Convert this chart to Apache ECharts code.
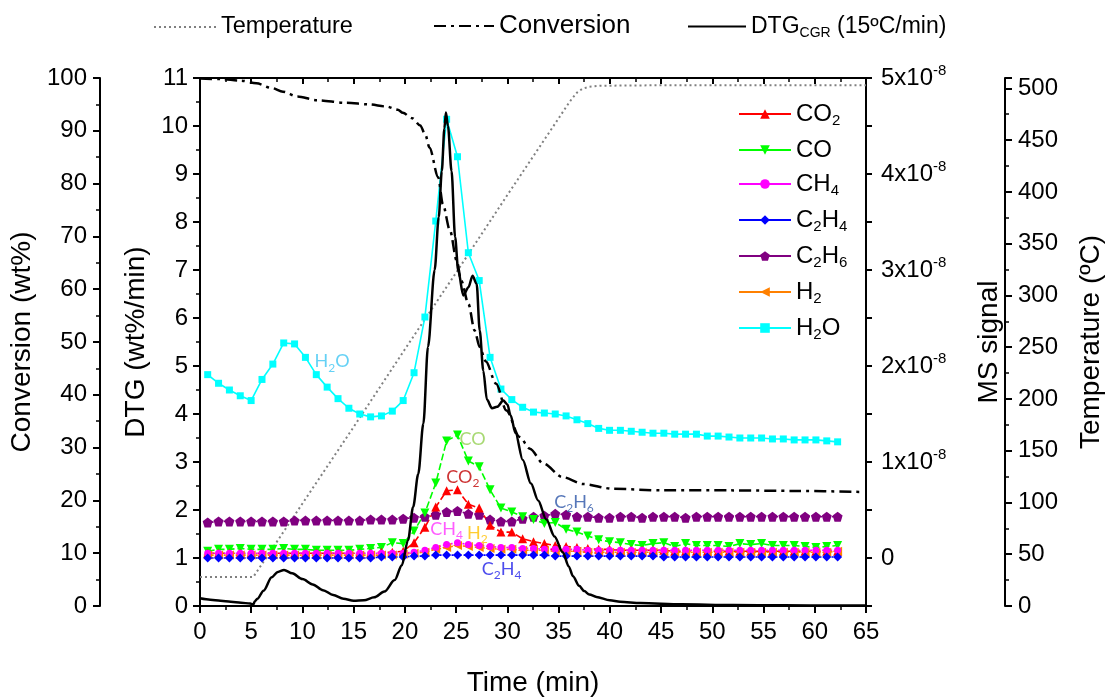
<!DOCTYPE html>
<html><head><meta charset="utf-8">
<script src="https://cdn.jsdelivr.net/npm/echarts@6/dist/echarts.min.js"></script>
<style>html,body{margin:0;padding:0;background:#fff}#c{width:1109px;height:697px}</style>
</head><body><div id="c"></div>
<script>
// ---- data ----
const msTime = [0.75,1.81,2.87,3.93,4.99,6.05,7.11,8.17,9.23,10.29,11.35,12.41,13.47,14.53,15.59,16.65,17.71,18.77,19.83,20.89,21.95,23.01,24.07,25.13,26.19,27.25,28.31,29.37,30.43,31.49,32.55,33.61,34.67,35.73,36.79,37.85,38.91,39.97,41.03,42.09,43.15,44.21,45.27,46.33,47.39,48.45,49.51,50.57,51.63,52.69,53.75,54.81,55.87,56.93,57.99,59.05,60.11,61.17,62.23];
// MS signals in units of 1e-8
const h2o = [1.91,1.82,1.75,1.69,1.64,1.86,2.02,2.24,2.23,2.09,1.91,1.78,1.66,1.56,1.50,1.47,1.48,1.53,1.64,1.93,2.51,3.51,4.57,4.18,3.18,2.89,2.09,1.76,1.65,1.57,1.52,1.51,1.50,1.48,1.44,1.40,1.35,1.33,1.33,1.32,1.31,1.30,1.30,1.29,1.29,1.29,1.27,1.27,1.26,1.25,1.25,1.25,1.24,1.24,1.23,1.23,1.23,1.22,1.21];
const c2h6 = [0.37,0.38,0.38,0.38,0.38,0.38,0.38,0.38,0.39,0.39,0.39,0.39,0.39,0.39,0.39,0.40,0.40,0.40,0.41,0.42,0.43,0.45,0.48,0.49,0.46,0.45,0.40,0.38,0.38,0.41,0.43,0.44,0.46,0.45,0.43,0.43,0.42,0.42,0.43,0.43,0.42,0.43,0.43,0.43,0.42,0.43,0.43,0.43,0.43,0.43,0.43,0.43,0.43,0.43,0.43,0.43,0.43,0.43,0.43];
const co = [0.07,0.09,0.09,0.10,0.09,0.09,0.09,0.10,0.09,0.09,0.08,0.08,0.08,0.08,0.09,0.10,0.11,0.16,0.15,0.28,0.47,0.78,1.22,1.28,1.01,0.95,0.71,0.52,0.48,0.43,0.40,0.36,0.37,0.30,0.27,0.23,0.19,0.17,0.16,0.14,0.13,0.15,0.16,0.12,0.15,0.13,0.13,0.13,0.12,0.15,0.14,0.15,0.13,0.13,0.13,0.12,0.11,0.12,0.13];
const co2 = [0.05,0.05,0.05,0.05,0.05,0.05,0.05,0.05,0.05,0.05,0.05,0.05,0.05,0.05,0.05,0.05,0.06,0.06,0.07,0.16,0.32,0.53,0.70,0.71,0.56,0.52,0.34,0.27,0.27,0.20,0.17,0.15,0.13,0.12,0.11,0.10,0.09,0.09,0.08,0.08,0.08,0.08,0.08,0.07,0.07,0.07,0.07,0.07,0.07,0.07,0.07,0.07,0.07,0.07,0.07,0.07,0.07,0.07,0.07];
const h2 = [0.03,0.03,0.03,0.03,0.03,0.03,0.03,0.03,0.03,0.03,0.03,0.03,0.03,0.03,0.03,0.03,0.03,0.03,0.04,0.05,0.06,0.09,0.11,0.13,0.12,0.11,0.10,0.09,0.09,0.08,0.08,0.08,0.07,0.07,0.07,0.06,0.06,0.06,0.06,0.06,0.06,0.06,0.06,0.06,0.06,0.06,0.06,0.06,0.06,0.06,0.06,0.06,0.06,0.06,0.06,0.06,0.06,0.06,0.07];
const ch4 = [0.05,0.05,0.05,0.05,0.05,0.05,0.05,0.05,0.05,0.05,0.05,0.05,0.05,0.05,0.05,0.05,0.05,0.05,0.05,0.06,0.08,0.11,0.14,0.16,0.14,0.13,0.12,0.11,0.11,0.10,0.10,0.09,0.09,0.09,0.09,0.08,0.08,0.08,0.08,0.08,0.08,0.08,0.08,0.08,0.08,0.08,0.08,0.08,0.08,0.08,0.08,0.08,0.08,0.08,0.08,0.08,0.08,0.08,0.08];
const c2h4 = [0.00,0.00,0.00,0.00,0.00,0.00,0.00,0.00,0.00,0.00,0.00,0.00,0.00,0.00,0.00,0.00,0.01,0.01,0.01,0.02,0.02,0.03,0.03,0.03,0.03,0.03,0.03,0.03,0.03,0.03,0.03,0.03,0.02,0.02,0.02,0.02,0.02,0.02,0.02,0.02,0.02,0.02,0.01,0.01,0.01,0.01,0.01,0.01,0.01,0.01,0.01,0.01,0.01,0.01,0.01,0.01,0.01,0.01,0.01];
// DTG (wt%/min) vs time
const dtg = [[0,0.16],[1,0.13],[2,0.11],[3,0.09],[4,0.07],[4.9,0.05],[5.2,0.03],[5.35,0.1],[5.6,0.15],[6.2,0.32],[7.0,0.6],[7.6,0.71],[8.2,0.75],[9.0,0.68],[10.0,0.56],[11.0,0.45],[12.0,0.33],[13.0,0.23],[14.0,0.15],[15.0,0.11],[16.0,0.12],[17.0,0.18],[18.0,0.3],[19.0,0.54],[19.7,0.85],[20.3,1.37],[20.8,2.06],[21.3,2.75],[21.8,3.8],[22.25,5.4],[22.9,7.0],[23.3,8.1],[23.6,9.06],[23.85,9.95],[24.0,10.28],[24.2,10.0],[24.55,9.06],[24.9,7.68],[25.2,6.99],[25.7,6.47],[26.2,6.64],[26.6,6.88],[27.0,6.71],[27.3,5.74],[27.65,4.9],[28.0,4.3],[28.5,4.12],[29.0,4.15],[29.6,4.28],[30.0,4.2],[30.3,3.98],[30.8,3.6],[31.5,3.04],[32.3,2.55],[33.0,2.2],[33.8,1.8],[34.6,1.45],[35.4,1.12],[36.0,0.82],[36.4,0.62],[37.0,0.42],[37.5,0.31],[38.0,0.24],[38.7,0.19],[40.0,0.12],[41.0,0.09],[43.0,0.06],[47.0,0.035],[52.0,0.02],[57.0,0.015],[62.0,0.01],[65.0,0.01]];
// Conversion (wt%) vs time
const conversion = [[0,99.9],[2,99.8],[4,99.5],[5.5,99.0],[7,98.1],[8.1,97.4],[9.5,96.5],[11.4,95.8],[14.3,95.3],[16.5,95.0],[18.2,94.6],[19.3,94.0],[19.8,93.4],[20.7,92.4],[21.5,91.0],[22.0,89.2],[22.4,86.8],[23.25,81.2],[23.7,76.1],[24.4,71.1],[25.05,65.4],[25.5,61.6],[26.2,57.2],[26.8,52.2],[27.3,49.0],[27.9,46.3],[28.9,42.1],[29.9,37.05],[31.2,32.0],[32.2,29.8],[33.5,27.0],[35.4,24.4],[37.4,23.1],[40.3,22.2],[45.2,21.9],[51.7,21.9],[58.2,21.8],[64.4,21.6]];
// Temperature (ºC) vs time
const temperature = [[0,28],[5.2,28],[10,99],[15,173],[20,248],[25,322],[30,397],[35,471],[35.8,483],[36.3,490],[36.8,496],[37.3,499.5],[38,501.5],[39,502.5],[45,503],[55,503],[65,503]];
// gas names / labels
const gasNames = ['CO2','CO','CH4','C2H4','C2H6','H2','H2O'];
const gasRich = {CO2:'{n|CO}{s|2}',CO:'{n|CO}',CH4:'{n|CH}{s|4}',C2H4:'{n|C}{s|2}{n|H}{s|4}',C2H6:'{n|C}{s|2}{n|H}{s|6}',H2:'{n|H}{s|2}',H2O:'{n|H}{s|2}{n|O}'};
// in-plot annotation labels (time, DTG-axis value)
const annoNames = ['H2O','CO','CO2','CH4','H2','C2H4','C2H6'];
const annoTime  = [12.9, 26.6, 25.65, 24.07, 27.07, 29.43, 36.5];
const annoValue = [5.09, 3.47, 2.68, 1.60, 1.52, 0.77, 2.17];
const annoColor = ['#3fc6f2','#92d050','#c00000','#ff33ff','#ffc000','#2020e8','#2c55a8'];

const FONT = "'Liberation Sans', Arial, sans-serif";
const chart = echarts.init(document.getElementById('c'), null, {renderer:'canvas'});

const pent = 'path://M0,-1 L0.951,-0.309 L0.588,0.809 L-0.588,0.809 L-0.951,-0.309 Z';
function gas(name, vals, color, symbol, rot, size, ltype){
  return {type:'line', name, xAxisIndex:0, yAxisIndex:2, data: msTime.map((t,i)=>[t, vals[i]]),
    symbol, symbolRotate:rot, symbolSize:size, showSymbol:true,
    lineStyle:{color, width:1.6, type:ltype}, itemStyle:{color}, z:3, silent:true, animation:false};
}
const TICK_FS = 24, NAME_FS = 28;
const axisLineStyle = {color:'#000', width:2};
const tickStyle = {color:'#000', width:2};
const labelBase = {color:'#000', fontSize:TICK_FS, fontFamily:FONT};
const nameBase = {color:'#000', fontSize:NAME_FS, fontFamily:FONT};

const annoSeries = {
  type:'scatter', name:'annotations', xAxisIndex:0, yAxisIndex:0, symbolSize:0.1, silent:true, animation:false, z:10,
  itemStyle:{color:'rgba(0,0,0,0)'},
  data: annoNames.map((n,i)=>({value:[annoTime[i], annoValue[i]], name:n,
    label:{show:true, position:'inside', formatter:gasRich[n],
      rich:{n:{fontSize:18, fontFamily:'Lato', color:annoColor[i], lineHeight:24},
            s:{fontSize:12, fontFamily:'Lato', color:annoColor[i], lineHeight:24, verticalAlign:'bottom'}}}}))
};
const hideSym = {opacity:0};

const option = {
  animation:false,
  backgroundColor:'#fff',
  textStyle:{fontFamily:FONT},
  grid:{left:200, right:243, top:78, bottom:91, containLabel:false, outerBoundsMode:'none'},
  legend:[
    {data:['Temperature'], left:148, top:10, itemWidth:62, itemHeight:14, itemStyle:hideSym, textStyle:{fontSize:23.5, color:'#000'}},
    {data:['Conversion'], left:428, top:8, itemWidth:60, itemHeight:14, itemStyle:hideSym, textStyle:{fontSize:26, color:'#000'}},
    {data:['DTG'], left:682, top:10, itemWidth:58, itemHeight:14, itemStyle:hideSym,
      formatter:()=>'{a|DTG}{s|CGR}{a| (15ºC/min)}',
      textStyle:{color:'#000', rich:{a:{fontSize:23, color:'#000', lineHeight:28}, s:{fontSize:14, color:'#000', lineHeight:28, verticalAlign:'bottom'}}}},
    {data:gasNames, orient:'vertical', left:733, top:97, itemWidth:52, itemHeight:12, itemGap:10,
      lineStyle:{type:'solid', width:2},
      formatter:(n)=>gasRich[n],
      textStyle:{color:'#000', rich:{n:{fontSize:24, color:'#000', lineHeight:26}, s:{fontSize:15, color:'#000', lineHeight:28, verticalAlign:'bottom'}}}}
  ],
  xAxis:[
    {type:'value', min:0, max:65, interval:5, position:'bottom',
      axisLine:{show:true, onZero:false, lineStyle:axisLineStyle},
      axisTick:{show:true, length:7, lineStyle:tickStyle},
      minorTick:{show:true, splitNumber:2, length:4, lineStyle:{color:'#000', width:1.5}},
      axisLabel:Object.assign({margin:14}, labelBase), splitLine:{show:false},
      name:'Time (min)', nameLocation:'middle', nameGap:63, nameTextStyle:nameBase},
    {type:'value', min:0, max:65, interval:5, position:'top',
      axisLine:{show:true, onZero:false, lineStyle:axisLineStyle},
      axisTick:{show:true, inside:true, length:6, lineStyle:tickStyle},
      minorTick:{show:true, splitNumber:2, length:4, lineStyle:{color:'#000', width:1.5}},
      axisLabel:{show:false}, splitLine:{show:false}}
  ],
  yAxis:[
    {type:'value', min:0, max:11, interval:1, position:'left', offset:0,
      axisLine:{show:true, onZero:false, lineStyle:axisLineStyle},
      axisTick:{show:true, length:7, lineStyle:tickStyle},
      minorTick:{show:true, splitNumber:2, length:4, lineStyle:{color:'#000', width:1.5}},
      axisLabel:Object.assign({margin:12}, labelBase), splitLine:{show:false},
      name:'DTG (wt%/min)', nameLocation:'middle', nameRotate:90, nameGap:43, nameTextStyle:nameBase},
    {type:'value', min:0, max:100, interval:10, position:'left', offset:100,
      axisLine:{show:true, onZero:false, lineStyle:axisLineStyle},
      axisTick:{show:true, length:7, lineStyle:tickStyle},
      minorTick:{show:true, splitNumber:2, length:4, lineStyle:{color:'#000', width:1.5}},
      axisLabel:Object.assign({margin:13}, labelBase), splitLine:{show:false},
      name:'Conversion (wt%)', nameLocation:'middle', nameRotate:90, nameGap:58, nameTextStyle:nameBase},
    {type:'value', min:-0.5, max:5, interval:0.5, position:'right', offset:0,
      axisLine:{show:true, onZero:false, lineStyle:axisLineStyle},
      axisTick:{show:true, length:6, lineStyle:tickStyle},
      axisLabel:{margin:15, color:'#000', fontFamily:FONT,
        formatter:(v)=>{ if (Math.abs(v-Math.round(v))>1e-6) return ''; const r=Math.round(v); if (r===0) return '{a|0}'; return '{a|'+r+'x10}{p|-8}'; },
        rich:{a:{fontSize:TICK_FS, color:'#000', lineHeight:30}, p:{fontSize:15, color:'#000', lineHeight:30, verticalAlign:'top'}}},
      splitLine:{show:false},
      name:'MS signal', nameLocation:'middle', nameRotate:90, nameGap:109, nameTextStyle:nameBase},
    {type:'value', min:0, max:510, interval:50, position:'right', offset:139,
      axisLine:{show:true, onZero:false, lineStyle:axisLineStyle},
      axisTick:{show:true, length:7, lineStyle:tickStyle},
      minorTick:{show:true, splitNumber:2, length:4, lineStyle:{color:'#000', width:1.5}},
      axisLabel:Object.assign({margin:13, showMaxLabel:false}, labelBase), splitLine:{show:false},
      name:'Temperature (ºC)', nameLocation:'middle', nameRotate:90, nameGap:72, nameTextStyle:nameBase}
  ],
  series:[
    {type:'line', name:'Temperature', xAxisIndex:0, yAxisIndex:3, data:temperature, symbol:'none', smooth:false,
      lineStyle:{color:'#808080', width:2, type:[2,3]}, itemStyle:{color:'#808080'}, z:2, silent:true},
    gas('C2H6', c2h6, '#800080', pent, 0, 10, [2,2]),
    gas('CO', co, '#00ff00', 'triangle', 180, 9, [7,3]),
    gas('CO2', co2, '#ff0000', 'triangle', 0, 9, [7,3]),
    gas('H2', h2, '#ff8000', 'triangle', 90, 9, [2,2]),
    gas('CH4', ch4, '#ff00ff', 'circle', 0, 7, [2,2]),
    gas('C2H4', c2h4, '#0000ff', 'diamond', 0, 9, [2,2]),
    gas('H2O', h2o, '#00ffff', 'rect', 0, 7, 'solid'),
    {type:'line', name:'DTG', xAxisIndex:0, yAxisIndex:0, data:dtg, symbol:'none', smooth:0.3, smoothMonotone:'x',
      lineStyle:{color:'#000', width:2.5}, itemStyle:{color:'#000'}, z:5, silent:true},
    {type:'line', name:'Conversion', xAxisIndex:0, yAxisIndex:1, data:conversion, symbol:'none', smooth:0.3, smoothMonotone:'x',
      lineStyle:{color:'#000', width:2.5, type:[12,5,3,5]}, itemStyle:{color:'#000'}, z:6, silent:true},
    annoSeries
  ]
};
chart.setOption(option);
</script>
</body></html>
